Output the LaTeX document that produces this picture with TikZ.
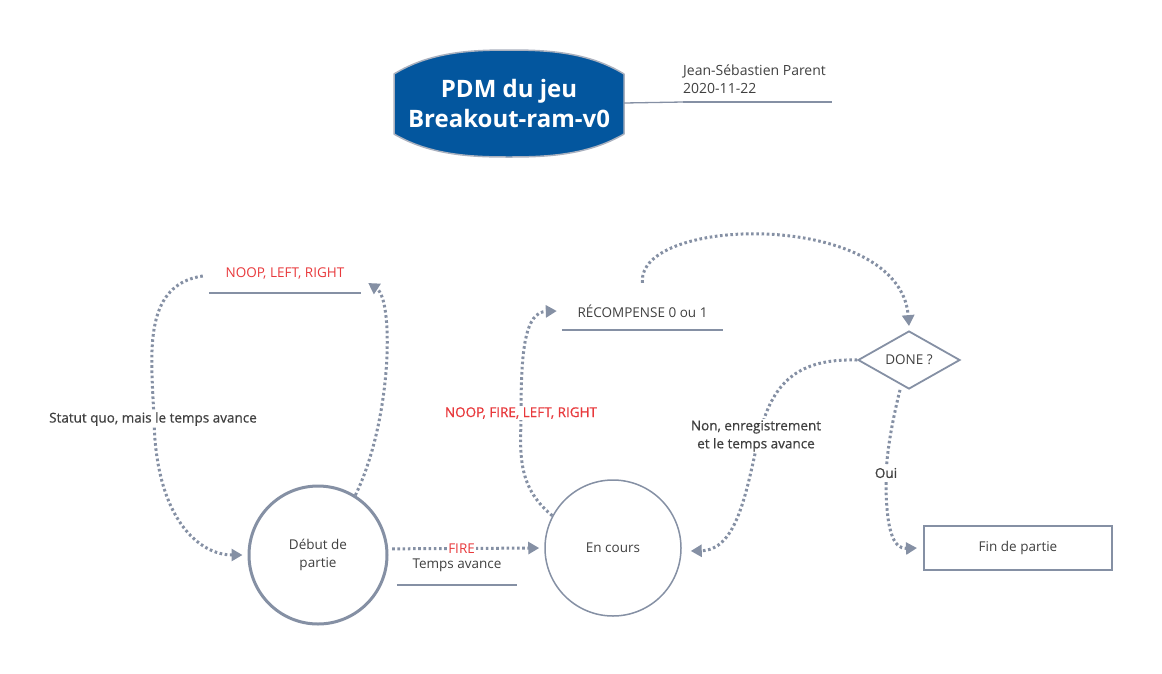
\documentclass[tikz,border=0pt]{standalone}
\usepackage{fontspec}
\setmainfont{Open Sans}
\newfontfamily\semib[FakeBold=0.6]{Open Sans}
\usetikzlibrary{arrows.meta,shapes.geometric}
\definecolor{edgec}{HTML}{8590A4}
\definecolor{txtc}{HTML}{404040}
\definecolor{redc}{HTML}{E8393C}
\definecolor{titleblue}{HTML}{03569E}
\begin{document}
\begin{tikzpicture}[x=1pt,y=-1pt,
  font=\fontsize{13.5}{18}\selectfont,
  every node/.style={text=txtc},
  flow/.style={draw=edgec, line width=3pt, dash pattern=on 2.6pt off 2.6pt,
    -{Triangle[length=11pt,width=12pt,fill=edgec]}},
  ubox/.style={inner sep=0pt, minimum height=40pt},
  uline/.style={draw=edgec, line width=2.5pt},
  state/.style={circle, draw=edgec, minimum size=138pt, inner sep=0pt, align=center, fill=white},
  elabel/.style={fill=white, inner sep=1.5pt, font=\semib\fontsize{13.5}{18}\selectfont, align=center},
  redlab/.style={text=redc}
]
\useasboundingbox (0,0) rectangle (1162,673);

% title
\filldraw[fill=titleblue, draw=edgec!70, line width=1.5pt, line join=round]
  (394,74) .. controls (430,52) and (470,50) .. (509,50) .. controls (548,50) and (588,52) .. (624,74)
  -- (624,134) .. controls (588,155) and (548,157) .. (509,157) .. controls (470,157) and (430,155) .. (394,134) -- cycle;
\node[text=white, font=\bfseries\fontsize{24}{30}\selectfont, align=center, minimum width=230pt, minimum height=80pt, inner sep=0pt] (title) at (509,103) {PDM du jeu\\Breakout-ram-v0};

\node[anchor=west, align=left, font=\fontsize{14}{18}\selectfont, inner sep=0pt] (author) at (683,79) {Jean-Sébastien Parent\\2020-11-22};
\coordinate (aul) at (683,102);
\coordinate (aur) at (832,102);
\draw[edgec, line width=1.3pt] (title.east) -- (aul);
\draw[uline] (aul) -- (aur);

% states
\node[state, line width=3pt] (deb) at (318,555) {Début de\\partie};
\node[state, line width=1.5pt, minimum size=136pt] (cours) at (613,548) {En cours};
\node[diamond, draw=edgec, line width=1.8pt, minimum width=102pt, minimum height=58pt, inner sep=0pt, aspect=1.76] (done) at (909,360) {DONE ?};
\node[rectangle, draw=edgec, line width=2pt, minimum width=188pt, minimum height=44pt, inner sep=0pt] (fin) at (1018,548) {Fin de partie};

% underlined labels
\node[ubox, minimum width=152pt, text=redc] (lab1) at (285,273) {NOOP, LEFT, RIGHT};
\draw[uline] ([yshift=-20pt]lab1.west) -- ([yshift=-20pt]lab1.east);
\node[ubox, minimum width=161pt, minimum height=38pt] (lab2) at (642.5,311) {RÉCOMPENSE 0 ou 1};
\draw[uline] (lab2.south west) -- (lab2.south east);
\node[ubox, minimum width=120pt] (lab3) at (457,565) {Temps avance};
\draw[uline] ([yshift=-20pt]lab3.west) -- ([yshift=-20pt]lab3.east);

% connectors
\draw[flow] (deb.58) .. controls (392,420) and (394,300) .. ([xshift=7pt,yshift=-10pt]lab1.east);
\draw[flow] ([xshift=-6pt,yshift=-3pt]lab1.west) .. controls (140,285) and (152,360) .. (154,420)
  .. controls (156,520) and (200,555) .. ([xshift=-5pt]deb.west);
\draw[flow, shorten <=4pt, shorten >=5pt] (deb.5) -- (cours.west)
  node[pos=0.47, fill=white, inner sep=1pt, text=redc, font=\fontsize{13.5}{18}\selectfont] (fire) {FIRE};
\draw[flow] (cours.152) .. controls (515,485) and (521,450) .. (521,413)
  .. controls (521,350) and (525,312) .. ([xshift=-5pt]lab2.west);
\draw[flow] ([yshift=9pt]lab2.north) .. controls (636,215) and (900,210) .. ([yshift=4pt]done.north);
\draw[flow] (done.west) .. controls (790,358) and (770,390) .. (758,440)
  .. controls (745,500) and (735,550) .. ([xshift=9pt,yshift=-3pt]cours.east);
\draw[flow] ([xshift=-9pt]done.south) .. controls (890,430) and (886,460) .. (886,480)
  .. controls (886,530) and (893,549) .. ([xshift=-6pt]fin.west);

% edge labels
\node[elabel] (statut) at (153,419) {Statut quo, mais le temps avance};
\node[elabel, text=redc] (actions) at (521,413) {NOOP, FIRE, LEFT, RIGHT};
\node[elabel] (non) at (756,436) {Non, enregistrement\\et le temps avance};
\node[elabel] (oui) at (886,473) {Oui};
\end{tikzpicture}
\end{document}
